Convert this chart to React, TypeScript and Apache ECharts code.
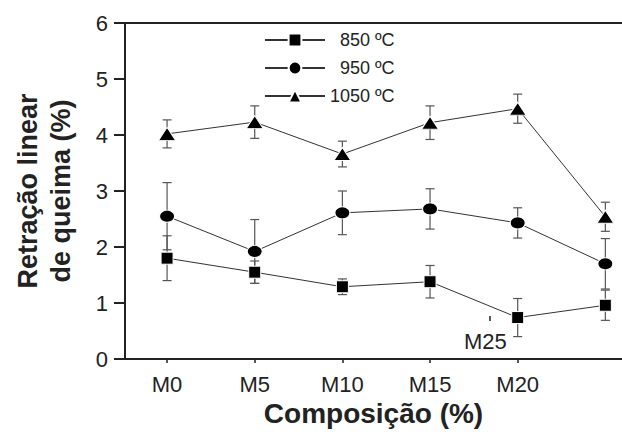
import React, { useEffect, useRef } from "react";
import * as echarts from "echarts";

const categories = ["M0", "M5", "M10", "M15", "M20", "M25"];
const labeledTickCount = 5; // M0..M20 carry ticks on the axis; M25's label sits displaced
const seriesNames = ["850 ºC", "950 ºC", "1050 ºC"];
const values850 = [1.8, 1.55, 1.29, 1.38, 0.74, 0.96];
const err850 = [0.4, 0.2, 0.14, 0.29, 0.34, 0.27];
const values950 = [2.55, 1.92, 2.61, 2.68, 2.43, 1.7];
const err950 = [0.6, 0.57, 0.39, 0.36, 0.27, 0.45];
const values1050 = [4.02, 4.23, 3.66, 4.22, 4.47, 2.54];
const err1050 = [0.25, 0.29, 0.23, 0.3, 0.26, 0.26];
const yMin = 0;
const yMax = 6;
const yInterval = 1;
const xTitle = "Composição (%)";
const yTitle = "Retração linear\nde queima (%)";

const FONT = "'Liberation Sans', Arial, Helvetica, sans-serif";

export default function App() {
  const ref = useRef<HTMLDivElement>(null);
  useEffect(() => {
    if (!ref.current) return;
    const chart = echarts.init(ref.current, undefined, { renderer: "svg" });
    const idx = categories.map((_, i) => i);
    const tickIdx = idx.slice(0, labeledTickCount);
    const allValues = [values850, values950, values1050];
    const allErr = [err850, err950, err1050];
    const symbols = ["rect", "circle", "triangle"];
    const sizes: any[] = [[12, 12], [15, 12], [17, 13]];

    const errSeries = allValues.map((vals, s) => ({
      type: "custom",
      name: seriesNames[s] + " err",
      z: 1,
      silent: true,
      data: vals.map((v, i) => [i, v - allErr[s][i], v + allErr[s][i]]),
      encode: { x: 0, y: [1, 2] },
      renderItem: (params: any, api: any) => {
        const x = api.value(0);
        const top = api.coord([x, api.value(2)]);
        const bot = api.coord([x, api.value(1)]);
        const hw = 4.5;
        const style = { stroke: "#555", lineWidth: 1.2 };
        return {
          type: "group",
          children: [
            { type: "line", shape: { x1: top[0], y1: top[1], x2: bot[0], y2: bot[1] }, style },
            { type: "line", shape: { x1: top[0] - hw, y1: top[1], x2: top[0] + hw, y2: top[1] }, style },
            { type: "line", shape: { x1: bot[0] - hw, y1: bot[1], x2: bot[0] + hw, y2: bot[1] }, style },
          ],
        };
      },
    }));

    const lineSeries = allValues.map((vals, s) => ({
      type: "line",
      name: seriesNames[s],
      z: 3,
      data: vals.map((v, i) => [i, v]),
      symbol: symbols[s],
      symbolSize: sizes[s],
      showAllSymbol: true,
      lineStyle: { color: "#333", width: 1 },
      itemStyle: { color: "#000", borderColor: "#fff", borderWidth: 1 },
    }));

    chart.setOption({
      animation: false,
      backgroundColor: "#fff",
      textStyle: { fontFamily: FONT },
      grid: { left: 125, right: 0, top: 23, bottom: 77, containLabel: false },
      legend: {
        data: seriesNames,
        orient: "vertical",
        left: 259,
        top: 26,
        itemWidth: 60,
        itemHeight: 16,
        itemGap: 10,
        selectedMode: false,
        formatter: (n: string) => (n.length < 7 ? "\u2007" + n : n),
        textStyle: { fontSize: 18, color: "#222", fontFamily: FONT },
      },
      xAxis: [
        {
          type: "value",
          min: -0.48,
          max: 5.19,
          name: xTitle,
          nameLocation: "middle",
          nameGap: 35,
          nameTextStyle: { fontSize: 28, fontWeight: "bold", color: "#222", fontFamily: FONT },
          splitLine: { show: false },
          axisLine: { show: true, onZero: false, lineStyle: { color: "#222", width: 2 } },
          axisTick: { show: true, length: 4, lineStyle: { color: "#222", width: 1.5 }, customValues: tickIdx },
          axisLabel: {
            show: true,
            customValues: tickIdx,
            formatter: (v: number) => categories[Math.round(v)],
            fontSize: 22,
            color: "#222",
            margin: 14,
            fontFamily: FONT,
          },
        },
        {
          type: "value",
          position: "top",
          min: -0.48,
          max: 5.19,
          splitLine: { show: false },
          axisLine: { show: true, onZero: false, lineStyle: { color: "#222", width: 2 } },
          axisTick: { show: false },
          axisLabel: { show: false },
        },
      ],
      yAxis: {
        type: "value",
        min: yMin,
        max: yMax,
        interval: yInterval,
        name: yTitle,
        nameLocation: "middle",
        nameGap: 48,
        nameRotate: 90,
        nameTextStyle: { fontSize: 27, fontWeight: "bold", color: "#222", lineHeight: 33, fontFamily: FONT },
        splitLine: { show: false },
        axisLine: { show: true, onZero: false, lineStyle: { color: "#222", width: 2 } },
        axisTick: { show: true, length: 11, lineStyle: { color: "#222", width: 2 } },
        axisLabel: { fontSize: 22, color: "#222", margin: 17, fontFamily: FONT },
      },
      graphic: [
        {
          type: "text",
          left: 464,
          top: 330,
          silent: true,
          style: { text: categories[5], fontSize: 22, fill: "#222", fontFamily: FONT },
        },
        {
          type: "line",
          silent: true,
          shape: { x1: 490, y1: 316, x2: 490, y2: 321 },
          style: { stroke: "#222", lineWidth: 1.5 },
        },
      ],
      series: [...errSeries, ...lineSeries],
    });
    return () => chart.dispose();
  }, []);
  return (
    <div
      ref={ref}
      style={{ position: "fixed", left: 0, top: 0, width: 622, height: 436, background: "#fff" }}
    />
  );
}
